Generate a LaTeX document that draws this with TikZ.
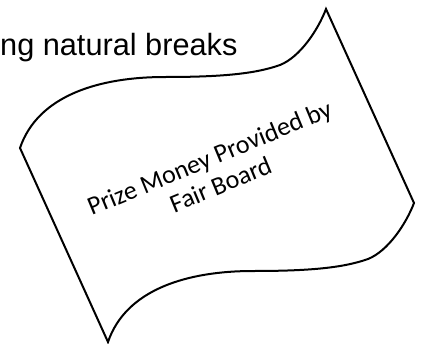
\documentclass[tikz,border=0pt]{standalone}
\usepackage{fontspec}
\setmainfont{Liberation Sans}
\newfontfamily\flagfont{Carlito}
\usetikzlibrary{positioning}

\begin{document}
\begin{tikzpicture}[x=1pt, y=-1pt,
  flag/.style={draw, line width=2pt, fill=white, line join=miter},
  lbl/.style={inner sep=0pt, font=\flagfont\fontsize{26}{29}\selectfont, align=center, rotate=22.5}]
  \useasboundingbox (0,0) rectangle (426,343);
  \clip (0,0) rectangle (426,343);
  \node[anchor=base west, inner sep=0pt, font=\fontsize{30.7}{34}\selectfont] (title) at (0,55) {ng natural breaks};
  % the waving flag
  \draw[flag] (20,148) .. controls (38,95) and (100,77) .. (165,77)
    .. controls (220,77) and (255,74) .. (280,65)
    .. controls (300,57) and (318,30) .. (326,9)
    -- (414,203)
    .. controls (406,224) and (388,251) .. (368,259)
    .. controls (343,268) and (308,271) .. (253,271)
    .. controls (188,271) and (126,289) .. (108,342) -- cycle;
  \node[lbl] (prize) at (215,171) {Prize Money Provided by\\Fair Board};
\end{tikzpicture}
\end{document}
